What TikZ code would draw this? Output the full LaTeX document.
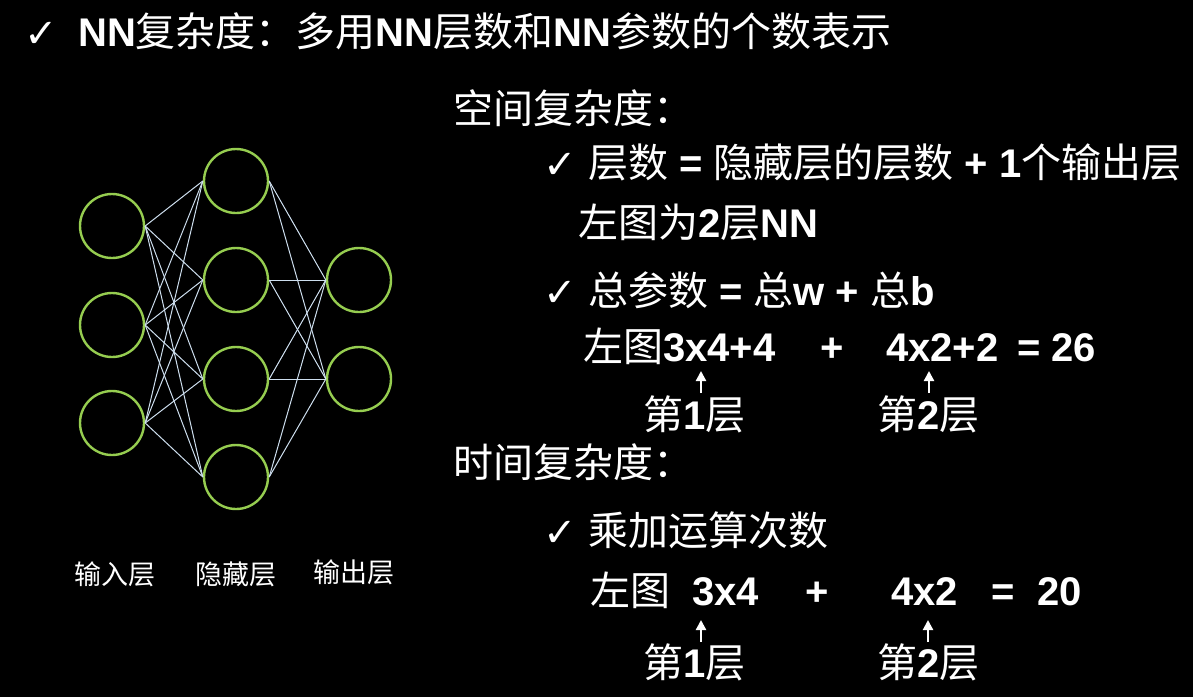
\documentclass[tikz,border=0pt]{standalone}
\usepackage{fontspec}
\setmainfont{Liberation Sans}
\newfontfamily\cjk{Noto Sans CJK SC}
\newfontfamily\symf{DejaVu Sans}
\usetikzlibrary{arrows.meta}
\definecolor{neurongreen}{RGB}{150,205,80}
\definecolor{edgeblue}{RGB}{205,222,238}
\newcommand\zh[1]{{\cjk\mdseries #1}}
\begin{document}
\begin{tikzpicture}[x=1pt,y=-1pt,
  neuron/.style={circle,draw=neurongreen,line width=2.4pt,minimum size=64pt,inner sep=0},
  link/.style={draw=edgeblue,line width=1pt},
  txt/.style={inner sep=0,anchor=west,text=white,font=\fontsize{40}{44}\selectfont\bfseries,text height=35pt,text depth=5pt},
  chk/.style={inner sep=0,anchor=west,text=white,font=\symf\bfseries\fontsize{40}{44}\selectfont,text height=32pt,text depth=0pt},
  lab/.style={inner sep=0,anchor=west,text=white,font=\cjk\fontsize{27}{30}\selectfont,text height=24pt,text depth=3pt},
  uparrow/.style={draw=white,line width=2.2pt,-{Triangle[length=10pt,width=10pt]}}]
\fill[black] (0,0) rectangle (1193,697);
\useasboundingbox (0,0) rectangle (1193,697);
% title
\node[chk] (c0) at (24,31) {✓};
\node[txt] (title) at (78,31) {NN\zh{复杂度：多用}NN\zh{层数和}NN\zh{参数的个数表示}};
% network
\node[neuron] (i1) at (112,226) {};
\node[neuron] (i2) at (112,325) {};
\node[neuron] (i3) at (112,423) {};
\node[neuron] (h1) at (236,181) {};
\node[neuron] (h2) at (236,280) {};
\node[neuron] (h3) at (236,379) {};
\node[neuron] (h4) at (236,477) {};
\node[neuron] (o1) at (359,280) {};
\node[neuron] (o2) at (359,379) {};
\foreach \a in {i1,i2,i3}{\foreach \b in {h1,h2,h3,h4}{\draw[link] (\a.east) -- (\b.west);}}
\foreach \a in {h1,h2,h3,h4}{\foreach \b in {o1,o2}{\draw[link] (\a.east) -- (\b.west);}}
\node[lab] (lin) at (74,574) {输入层};
\node[lab] (lhid) at (195,574) {隐藏层};
\node[lab] (lout) at (313,572) {输出层};
% space complexity
\node[txt] (sp) at (453,108) {\zh{空间复杂度：}};
\node[chk] (c1) at (543,162) {✓};
\node[txt] (s1) at (588,162) {\zh{层数} = \zh{隐藏层的层数} + 1\zh{个输出层}};
\node[txt] (s2) at (578,222) {\zh{左图为}2\zh{层}NN};
\node[chk] (c2) at (543,290) {✓};
\node[txt] (s3) at (588,290) {\zh{总参数} = \zh{总}w + \zh{总}b};
\node[txt] (p1) at (583,346) {\zh{左图}3x4+4};
\node[txt] (p2) at (820,346) {+};
\node[txt] (p3) at (886,346) {4x2+2};
\node[txt] (p4) at (1017,346) {= 26};
\coordinate (a1s) at (701,393);
\coordinate (a1e) at (701,371);
\coordinate (a2s) at (929,393);
\coordinate (a2e) at (929,371);
\draw[uparrow] (a1s) -- (a1e);
\draw[uparrow] (a2s) -- (a2e);
\node[txt] (l1) at (643,414) {\zh{第}1\zh{层}};
\node[txt] (l2) at (877,414) {\zh{第}2\zh{层}};
% time complexity
\node[txt] (tm) at (453,462) {\zh{时间复杂度：}};
\node[chk] (c3) at (543,530) {✓};
\node[txt] (t1) at (588,530) {\zh{乘加运算次数}};
\node[txt] (q0) at (590,590) {\zh{左图}};
\node[txt] (q1) at (692,590) {3x4};
\node[txt] (q2) at (805,590) {+};
\node[txt] (q3) at (891,590) {4x2};
\node[txt] (q4) at (991,590) {=};
\node[txt] (q5) at (1037,590) {20};
\coordinate (b1s) at (701,642);
\coordinate (b1e) at (701,620);
\coordinate (b2s) at (928,642);
\coordinate (b2e) at (928,620);
\draw[uparrow] (b1s) -- (b1e);
\draw[uparrow] (b2s) -- (b2e);
\node[txt] (m1) at (643,662) {\zh{第}1\zh{层}};
\node[txt] (m2) at (877,662) {\zh{第}2\zh{层}};
\end{tikzpicture}
\end{document}
